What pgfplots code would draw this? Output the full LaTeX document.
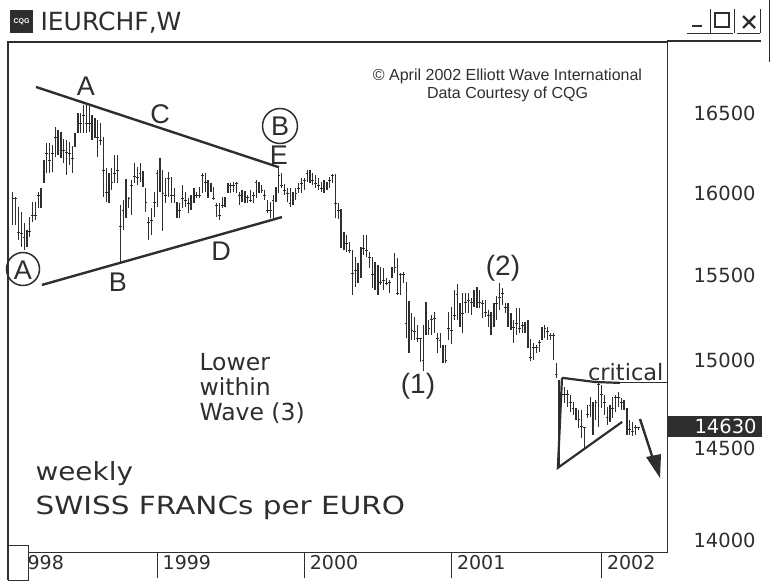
\documentclass[border=0pt]{standalone}
\usepackage{pgfplots}
\usepackage{pgfplotstable}
\usepackage{fontspec}
\pgfplotsset{compat=1.18}
\setmainfont{DejaVu Sans}
\newfontfamily\arial{Liberation Sans}
\definecolor{ink}{gray}{0.18}
\newcommand{\fs}[1]{\fontsize{#1}{#1}\selectfont}
\pgfplotstableread{
w h l c
1 16007 15805 15970
2 15976 15805 15970
3 15914 15714 15762
4 15884 15671 15756
5 15817 15653 15732
6 15774 15671 15726
7 15853 15732 15768
8 15945 15823 15865
9 15945 15835 15865
10 16007 15908 15988
11 16031 15908 16019
12 16204 16062 16142
13 16311 16123 16248
14 16311 16123 16204
15 16298 16130 16248
16 16411 16223 16349
17 16392 16236 16342
18 16380 16217 16330
19 16336 16186 16267
20 16330 16111 16254
21 16317 16173 16248
22 16292 16123 16217
23 16373 16286 16311
24 16500 16373 16437
25 16500 16373 16437
26 16551 16373 16487
27 16564 16373 16437
28 16551 16380 16437
29 16487 16330 16380
30 16468 16342 16437
31 16456 16223 16349
32 16437 16298 16330
33 16349 15976 16142
34 16154 15945 16007
35 16123 15939 16068
36 16154 16019 16068
37 16236 16062 16123
38 16236 16062 16142
39 15926 15581 15793
40 15957 15774 15896
41 16086 15847 15908
42 15976 15908 15970
43 16080 15865 16049
44 16186 16062 16104
45 16161 16049 16098
46 16186 16068 16123
47 16136 16037 16123
48 16031 15884 15945
49 15853 15714 15817
50 15908 15744 15835
51 16007 15853 15945
52 16142 15914 16123
53 16217 16007 16123
54 16142 15768 16000
55 16092 15939 15988
56 16130 15976 16092
57 16098 15939 15988
58 16031 15939 15988
59 15945 15847 15939
60 15939 15847 15896
61 16049 15908 15970
62 16007 15914 15957
63 15970 15878 15939
64 15988 15896 15945
65 16031 15939 15988
66 16007 15970 15988
67 16037 15970 15988
68 16123 16000 16111
69 16123 16007 16068
70 16080 15970 16049
71 16062 16007 16037
72 16037 15957 15970
73 15939 15853 15926
74 15939 15835 15865
75 15976 15908 15926
76 15976 15914 15945
77 16062 16000 16049
78 16062 16000 16049
79 16068 16007 16049
80 16068 16000 16062
81 16007 15926 15988
82 16019 15945 15988
83 16013 15939 16007
84 15988 15939 15976
85 16019 15945 15957
86 16007 15939 15988
87 16080 15970 16068
88 16068 16000 16049
89 16049 16000 16019
90 16019 15957 15988
91 15957 15878 15896
92 15945 15847 15896
93 15988 15847 15957
94 16037 15945 16019
95 16154 16000 16111
96 16123 16031 16049
97 16056 15988 16019
98 16031 15945 16000
99 16031 15914 15939
100 16007 15926 15988
101 16031 15957 16000
102 16062 16000 16031
103 16092 16000 16062
104 16092 16019 16080
105 16142 16068 16123
106 16142 16062 16123
107 16123 16049 16080
108 16111 16031 16062
109 16092 16019 16049
110 16068 16007 16031
111 16080 16000 16062
112 16068 16019 16062
113 16098 16031 16080
114 16117 16062 16111
115 16117 15847 15939
116 15939 15841 15896
117 15902 15665 15756
118 15762 15653 15683
119 15744 15641 15696
120 15702 15635 15653
121 15653 15385 15515
122 15611 15432 15533
123 15575 15456 15515
124 15671 15486 15665
125 15744 15623 15665
126 15744 15611 15653
127 15641 15545 15611
128 15611 15426 15504
129 15581 15414 15504
130 15563 15385 15456
131 15551 15444 15462
132 15545 15414 15474
133 15486 15444 15456
134 15474 15397 15462
135 15551 15486 15545
136 15635 15515 15551
137 15605 15385 15397
138 15515 15385 15504
139 15521 15456 15504
140 15462 15133 15220
141 15349 15046 15168
142 15279 15121 15179
143 15255 15121 15168
144 15208 15109 15133
145 15133 14994 15133
146 15208 14942 15005
147 15343 15150 15197
148 15238 15150 15191
149 15267 15150 15238
150 15284 15162 15249
151 15162 15046 15133
152 15162 15075 15121
153 15092 14988 15081
154 15092 14988 15005
155 15284 15121 15191
156 15314 15098 15179
157 15414 15238 15267
158 15450 15238 15390
159 15337 15197 15279
160 15396 15162 15279
161 15396 15279 15343
162 15396 15279 15355
163 15367 15267 15343
164 15414 15314 15355
165 15432 15308 15396
166 15414 15308 15343
167 15355 15249 15337
168 15355 15255 15284
169 15296 15197 15267
170 15284 15150 15220
171 15337 15197 15296
172 15379 15238 15337
173 15456 15296 15373
174 15426 15325 15396
175 15337 15279 15314
176 15337 15197 15314
177 15279 15179 15197
178 15238 15104 15197
179 15308 15150 15220
180 15308 15162 15191
181 15226 15162 15208
182 15226 15162 15168
183 15238 15075 15121
184 15127 15000 15022
185 15104 15005 15075
186 15092 15046 15075
187 15121 15052 15104
188 15197 15121 15191
189 15208 15133 15191
190 15197 15121 15168
191 15162 15121 15150
192 15162 15005 15150
193 14988 14902 14919
194 14890 14395 14439
195 14833 14748 14805
196 14850 14759 14805
197 14833 14737 14805
198 14805 14709 14759
199 14765 14692 14731
200 14731 14663 14720
201 14720 14618 14663
202 14720 14562 14624
203 14624 14506 14618
204 14748 14675 14692
205 14793 14680 14748
206 14765 14579 14709
207 14776 14663 14759
208 14879 14624 14862
209 14862 14731 14805
210 14805 14692 14759
211 14737 14635 14680
212 14748 14652 14692
213 14793 14675 14731
214 14805 14709 14788
215 14822 14737 14788
216 14788 14720 14765
217 14776 14720 14731
218 14731 14579 14663
219 14663 14579 14607
220 14652 14574 14596
221 14635 14579 14618
222 14624 14607 14618
}\bars
\begin{document}
\begin{tikzpicture}
\path[use as bounding box] (0,0) rectangle (770pt,587pt);
\begin{axis}[
  at={(8pt,35pt)},anchor=south west,scale only axis,width=659pt,height=510pt,
  xmin=-0.7,xmax=232.16,
  y coord trafo/.code={\begingroup\pgfkeys{/pgf/fpu=true,/pgf/fpu/output format=fixed}\pgfmathparse{ln(#1)}\pgfmathsmuggle\pgfmathresult\endgroup},
  y coord inv trafo/.code={\begingroup\pgfkeys{/pgf/fpu=true,/pgf/fpu/output format=fixed}\pgfmathparse{exp(#1)}\pgfmathsmuggle\pgfmathresult\endgroup},
  ymin=13936,ymax=16957,
  clip=false,
  axis line style={ink,line width=0.9pt},
  xtick={0,52,104,156,209},xticklabels={1998,1999,2000,2001,2002},
  xtick pos=bottom,tick align=outside,
  major tick length=26pt,
  tick style={ink,line width=0.8pt},
  xticklabel style={anchor=north west,xshift=2pt,yshift=26pt,text=ink,font=\fs{19}},
  ytick={14000,14500,15000,15500,16000,16500},
  yticklabels={14000,14500,15000,15500,16000,16500},
  ytick style={draw=none},
  yticklabel pos=right,
  yticklabel style={anchor=west,xshift=-3pt,text=ink,font=\fs{19.5}},
]
\pgfplotsinvokeforeach{0,...,221}{
  \pgfplotstablegetelem{#1}{w}\of\bars \let\W\pgfplotsretval
  \pgfplotstablegetelem{#1}{h}\of\bars \let\H\pgfplotsretval
  \pgfplotstablegetelem{#1}{l}\of\bars \let\Lo\pgfplotsretval
  \addplot[ink,line width=1.25pt,forget plot] coordinates {(\W,\H) (\W,\Lo)};
}
\addplot[only marks,mark=-,mark size=1.3pt,mark options={ink,line width=0.7pt}] table[x=w,y=c] {\bars};
\addplot[ink,line width=2.4pt] coordinates {(9.2,16666) (95.05,16160)};
\addplot[ink,line width=2.4pt] coordinates {(11.3,15444) (96.1,15853)};
\addplot[ink,line width=2.2pt] coordinates {(195.05,14902) (206.7,14879) (215.5,14873)};
\addplot[ink,line width=2.2pt] coordinates {(195.05,14902) (193.6,14395) (216.3,14652)};
\addplot[ink,line width=0.9pt] coordinates {(206.7,14879) (232.16,14879)};
\end{axis}
\begin{scope}[x=1pt,y=-1pt,shift={(0,587pt)},text=ink]
% frame weights
\draw[ink,line width=2pt] (8,580)--(8,42)--(667,42);
% bottom-left box
\draw[ink,line width=1pt,fill=white] (8,545) rectangle (28,580);
% header
\fill[ink] (10,10) rectangle (33,33);
\node[white,font=\arial\bfseries\fs{7}] at (21.5,21.5) {CQG};
\node[anchor=west,font=\fs{25}] at (37,23) {IEURCHF,W};
% window buttons
\draw[ink,line width=1.1pt] (667,41)--(761,41);
\draw[ink,line width=0.8pt] (687,33)--(733,33) (737,33)--(760,33);
\draw[ink,line width=0.8pt] (710,9)--(710,33) (734,9)--(734,33) (760,9)--(760,33);
\draw[ink,line width=0.8pt] (769,0)--(769,62);
\draw[ink,line width=2pt] (692,26)--(702,26);
\draw[ink,line width=1.2pt] (715,13) rectangle (729,27);
\draw[ink,line width=2.4pt] (743,16)--(755,28) (755,16)--(743,28);
% copyright
\node[font=\arial\fs{16}] at (507.5,76) {© April 2002 Elliott Wave International};
\node[font=\arial\fs{16}] at (507.5,94) {Data Courtesy of CQG};
% wave labels
\node[font=\arial\fs{27}] at (86,86) {A};
\node[font=\arial\fs{27}] at (160,114) {C};
\node[font=\arial\fs{27}] at (280,126) {B};
\draw[ink,line width=1.5pt] (280,126) circle (17.5);
\node[font=\arial\fs{27}] at (279,155) {E};
\node[font=\arial\fs{27}] at (221,251) {D};
\node[font=\arial\fs{27}] at (118,282) {B};
\node[font=\arial\fs{27}] at (23,270) {A};
\draw[ink,line width=1.5pt,fill=none] (23,269) circle (16.5);
\node[font=\arial\fs{28}] at (418,386) {(1)};
\node[font=\arial\fs{28}] at (503,268) {(2)};
\node[anchor=east,font=\fs{22.5}] at (667,372) {critical};
\node[anchor=west,font=\fs{23.5}] at (196,362) {Lower};
\node[anchor=west,font=\fs{23.5}] at (196,387) {within};
\node[anchor=west,font=\fs{23.5}] at (196,413) {Wave (3)};
\node[anchor=west,font=\fs{25}] at (32,474) {\scalebox{1.115}[1]{weekly}};
\node[anchor=west,font=\fs{25}] at (32,508) {\scalebox{1.18}[1]{SWISS FRANCs per EURO}};
% current value tag
\fill[ink] (667,416) rectangle (762,437);
\node[white,anchor=west,font=\fs{19.5}] at (691,426.5) {14630};
% arrow
\draw[ink,line width=2.4pt] (640,419)--(653,459);
\fill[ink] (646,457)--(661,454)--(660,478)--cycle;
\end{scope}
\end{tikzpicture}
\end{document}
